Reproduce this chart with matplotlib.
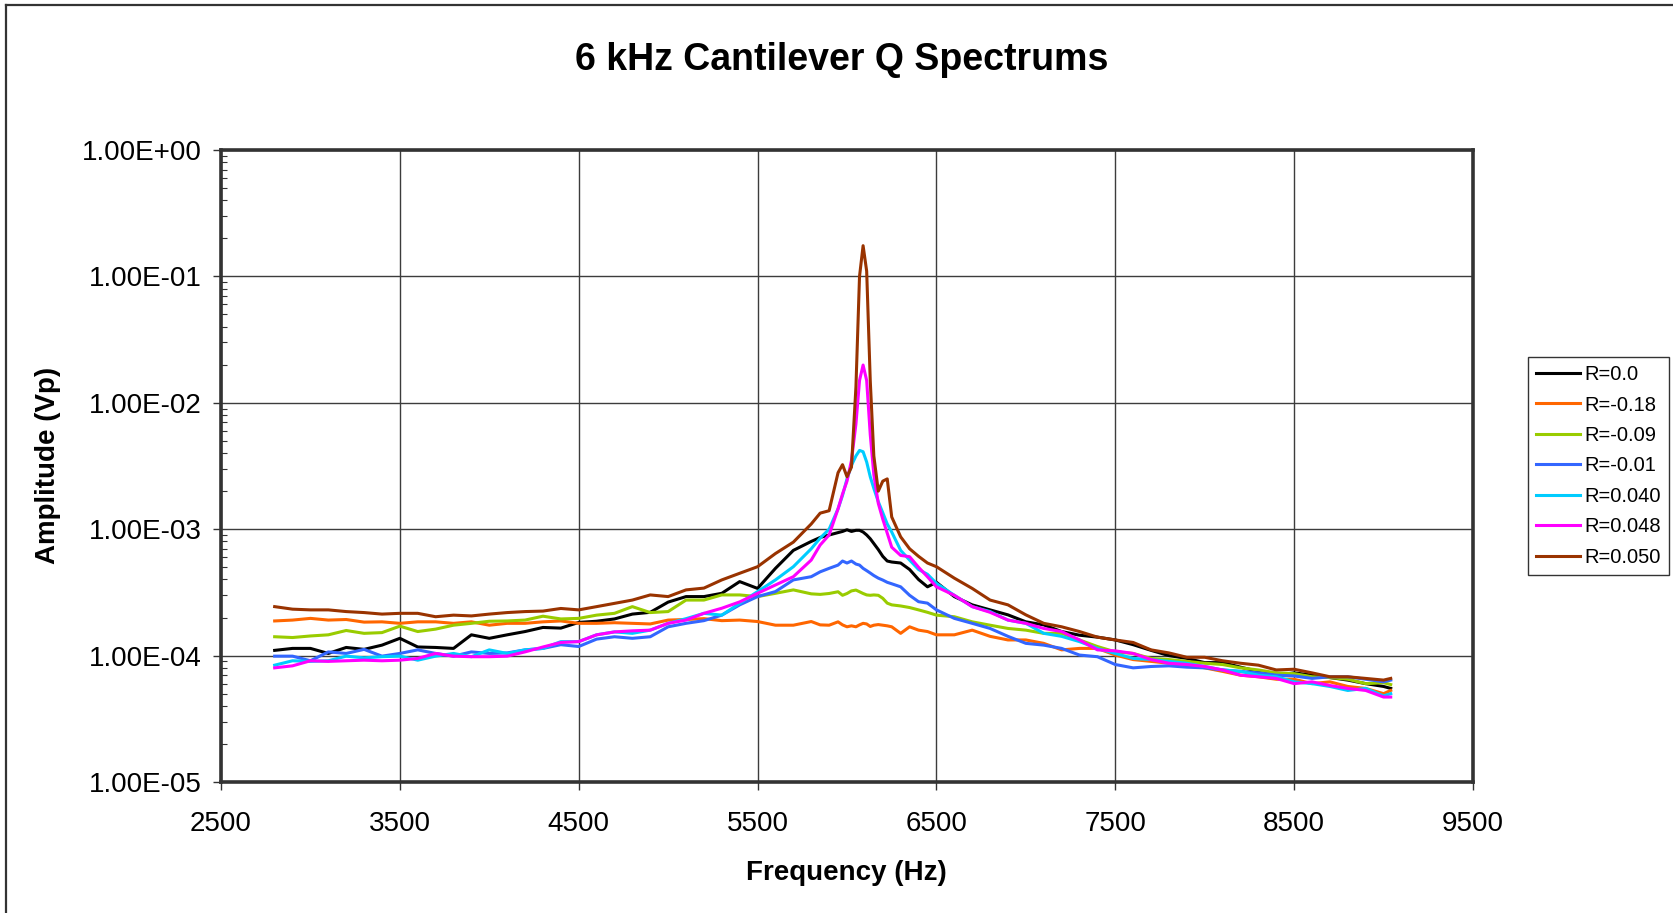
import matplotlib.pyplot as plt
from matplotlib.lines import Line2D
from matplotlib.ticker import FixedLocator, FuncFormatter, LogLocator, NullFormatter

plt.rcParams['font.family'] = ['Liberation Sans', 'DejaVu Sans']

# frequency points (Hz), denser around the resonance
freq_hz = [2800, 2900, 3000, 3100, 3200, 3300, 3400, 3500, 3600, 3700,
           3800, 3900, 4000, 4100, 4200, 4300, 4400, 4500, 4600, 4700,
           4800, 4900, 5000, 5100, 5200, 5300, 5400, 5500, 5600, 5700,
           5800,
           5850, 5900, 5950, 5975, 6000, 6025, 6050, 6070, 6090, 6110,
           6130, 6150, 6175, 6200, 6225, 6250, 6300, 6350, 6400, 6450,
           6500, 6600, 6700, 6800, 6900, 7000, 7100, 7200, 7300, 7400,
           7500, 7600, 7700, 7800, 7900, 8000, 8100, 8200, 8300, 8400,
           8500, 8600, 8700, 8800, 8900, 9000, 9040]

# amplitudes, in units of 1e-4 Vp
amp_r_0 = [1.10, 1.14, 1.14, 1.04, 1.16, 1.12, 1.21, 1.37, 1.17, 1.16,
           1.14, 1.46, 1.37, 1.46, 1.55, 1.67, 1.65, 1.83, 1.87, 1.95,
           2.13, 2.20, 2.65, 2.93, 2.93, 3.11, 3.85, 3.40, 4.90, 6.80,
           8.0,
           8.6, 9.0, 9.4, 9.6, 9.9, 9.6, 9.8, 9.8, 9.5, 9.0,
           8.4, 7.7, 6.9, 6.1, 5.6, 5.5, 5.4, 4.8, 4.0, 3.5,
           3.8, 2.93, 2.52, 2.30, 2.10, 1.85, 1.75, 1.55, 1.45, 1.40,
           1.33, 1.22, 1.10, 1.00, 0.95, 0.88, 0.88, 0.81, 0.75, 0.70,
           0.73, 0.70, 0.67, 0.64, 0.60, 0.57, 0.55]

amp_r_m018 = [1.88, 1.91, 1.97, 1.91, 1.93, 1.84, 1.85, 1.80, 1.85, 1.85,
              1.80, 1.85, 1.74, 1.80, 1.80, 1.85, 1.88, 1.80, 1.80, 1.82,
              1.80, 1.78, 1.91, 1.93, 1.96, 1.89, 1.91, 1.86, 1.74, 1.74,
              1.86,
              1.75, 1.74, 1.85, 1.75, 1.69, 1.72, 1.69, 1.75, 1.80, 1.78,
              1.70, 1.74, 1.76, 1.74, 1.72, 1.69, 1.50, 1.69, 1.59, 1.55,
              1.46, 1.46, 1.59, 1.42, 1.33, 1.33, 1.25, 1.11, 1.14, 1.14,
              1.01, 0.93, 0.90, 0.87, 0.85, 0.80, 0.75, 0.70, 0.68, 0.65,
              0.65, 0.60, 0.62, 0.57, 0.55, 0.50, 0.53]

amp_r_m009 = [1.41, 1.39, 1.43, 1.46, 1.58, 1.50, 1.52, 1.71, 1.55, 1.62,
              1.74, 1.80, 1.87, 1.88, 1.91, 2.05, 1.95, 1.97, 2.09, 2.16,
              2.44, 2.19, 2.23, 2.75, 2.75, 3.02, 3.02, 2.93, 3.11, 3.31,
              3.08,
              3.05, 3.10, 3.20, 3.00, 3.10, 3.25, 3.30, 3.20, 3.10, 3.02,
              3.00, 3.02, 3.00, 2.84, 2.60, 2.52, 2.47, 2.40, 2.30, 2.20,
              2.09, 2.03, 1.85, 1.74, 1.64, 1.59, 1.50, 1.50, 1.33, 1.18,
              1.07, 1.04, 0.95, 0.93, 0.90, 0.87, 0.85, 0.80, 0.77, 0.73,
              0.72, 0.68, 0.67, 0.65, 0.60, 0.61, 0.59]

amp_r_m001 = [0.99, 0.99, 0.91, 1.07, 1.04, 1.12, 0.99, 1.04, 1.11, 1.04,
              0.99, 1.07, 1.04, 1.05, 1.11, 1.14, 1.22, 1.18, 1.35, 1.41,
              1.37, 1.41, 1.69, 1.80, 1.89, 2.09, 2.52, 2.93, 3.21, 3.97,
              4.21,
              4.6, 4.9, 5.2, 5.6, 5.4, 5.6, 5.3, 5.2, 4.9, 4.7,
              4.5, 4.3, 4.1, 3.96, 3.8, 3.7, 3.5, 3.0, 2.67, 2.6,
              2.30, 1.97, 1.80, 1.64, 1.42, 1.25, 1.21, 1.14, 1.01, 0.98,
              0.85, 0.80, 0.82, 0.83, 0.81, 0.80, 0.77, 0.75, 0.73, 0.70,
              0.69, 0.66, 0.68, 0.68, 0.65, 0.62, 0.64]

amp_r_0040 = [0.84, 0.91, 0.90, 0.91, 0.99, 0.96, 0.98, 0.99, 0.92, 0.99,
              1.04, 0.98, 1.11, 1.04, 1.11, 1.14, 1.29, 1.29, 1.46, 1.54,
              1.50, 1.59, 1.80, 1.96, 2.16, 2.09, 2.59, 3.21, 3.97, 5.05,
              7.0,
              8.5, 10.0, 14.5, 18.5, 25, 32, 38, 42, 41, 34,
              26, 21, 16.5, 13.5, 11, 9.5, 6.8, 5.7, 4.8, 4.4,
              3.73, 3.0, 2.44, 2.23, 1.91, 1.80, 1.50, 1.42, 1.29, 1.14,
              1.04, 0.95, 0.93, 0.90, 0.87, 0.82, 0.77, 0.75, 0.70, 0.68,
              0.62, 0.60, 0.57, 0.53, 0.55, 0.48, 0.50]

amp_r_0048 = [0.80, 0.83, 0.91, 0.90, 0.91, 0.92, 0.91, 0.92, 0.95, 1.04,
              0.99, 0.98, 0.98, 0.99, 1.07, 1.17, 1.27, 1.29, 1.46, 1.54,
              1.57, 1.59, 1.80, 1.91, 2.16, 2.37, 2.66, 3.11, 3.62, 4.21,
              5.70,
              7.5, 9.0, 14.5, 19, 24, 35, 68, 150, 199, 150,
              56, 27, 16, 12, 9.3, 7.2, 6.2, 6.06, 5.0, 4.2,
              3.5, 3.0, 2.44, 2.2, 1.91, 1.80, 1.64, 1.55, 1.33, 1.11,
              1.09, 1.04, 0.93, 0.87, 0.85, 0.82, 0.77, 0.70, 0.68, 0.66,
              0.60, 0.62, 0.58, 0.55, 0.53, 0.47, 0.47]

amp_r_0050 = [2.44, 2.33, 2.30, 2.30, 2.23, 2.19, 2.13, 2.16, 2.16, 2.03,
              2.09, 2.06, 2.13, 2.19, 2.23, 2.25, 2.36, 2.30, 2.44, 2.59,
              2.75, 3.02, 2.93, 3.31, 3.42, 3.97, 4.48, 5.05, 6.42, 7.9,
              11.0,
              13.4, 14.0, 28, 32.4, 26, 31, 134, 1000, 1750, 1100,
              150, 38, 20, 24, 25, 12.5, 8.7, 7.0, 6.1, 5.4,
              5.05, 4.1, 3.4, 2.75, 2.52, 2.1, 1.80, 1.69, 1.55, 1.40,
              1.33, 1.27, 1.11, 1.05, 0.97, 0.97, 0.91, 0.87, 0.84, 0.77,
              0.78, 0.73, 0.68, 0.68, 0.66, 0.64, 0.66]

labels = ['R=0.0', 'R=-0.18', 'R=-0.09', 'R=-0.01', 'R=0.040', 'R=0.048', 'R=0.050']
colors = ['#000000', '#FF6600', '#99CC00', '#3366FF', '#00CCFF', '#FF00FF', '#993300']
amps = [amp_r_0, amp_r_m018, amp_r_m009, amp_r_m001, amp_r_0040, amp_r_0048, amp_r_0050]

fig = plt.figure(figsize=(16.73, 9.13), dpi=100)
ax = fig.add_axes([221 / 1673, 1 - 782 / 913, (1473 - 221) / 1673, (782 - 150) / 913])

for lab, col, a in zip(labels, colors, amps):
    ax.plot(freq_hz, [v * 1e-4 for v in a], color=col, lw=2.2, label=lab,
            solid_joinstyle='round')

ax.set_yscale('log')
ax.set_ylim(1e-5, 1)
ax.set_xlim(2500, 9500)
ax.xaxis.set_major_locator(FixedLocator(list(range(2500, 9501, 1000))))
ax.yaxis.set_major_locator(FixedLocator([1e-5, 1e-4, 1e-3, 1e-2, 1e-1, 1]))
ax.yaxis.set_major_formatter(FuncFormatter(lambda v, p: f'{v:.2E}'))
ax.yaxis.set_minor_locator(LogLocator(base=10, subs=range(2, 10)))
ax.yaxis.set_minor_formatter(NullFormatter())

ax.tick_params(axis='both', which='major', direction='out', length=6, width=1,
               labelsize=20, color='#333333')
ax.tick_params(axis='y', which='major', pad=8)
ax.tick_params(axis='x', which='major', pad=15)
ax.tick_params(axis='y', which='minor', direction='in', length=4, width=0.8, color='#333333')

ax.grid(True, which='major', color='#3c3c3c', lw=1.0)
ax.set_axisbelow(True)
for sp in ax.spines.values():
    sp.set_linewidth(2.6)
    sp.set_color('#333333')

fig.text(0.503, 0.934, '6 kHz Cantilever Q Spectrums', ha='center', va='center',
         fontsize=27, fontweight='bold')
fig.text(0.506, 0.044, 'Frequency (Hz)', ha='center', va='center',
         fontsize=20, fontweight='bold')
fig.text(0.0287, 0.49, 'Amplitude (Vp)', ha='center', va='center', rotation=90,
         fontsize=20, fontweight='bold')

leg = ax.legend(loc='upper left', bbox_to_anchor=(1528 / 1673, 1 - 357 / 913),
                bbox_transform=fig.transFigure, frameon=True, fancybox=False,
                edgecolor='black', fontsize=14.5, handlelength=2.2,
                handletextpad=0.2, labelspacing=0.57, borderpad=0.4,
                borderaxespad=0)
leg.get_frame().set_linewidth(1.0)

# chart area border (top and left edges visible)
fig.add_artist(Line2D([6 / 1673, 1.0], [1 - 5 / 913, 1 - 5 / 913],
                      transform=fig.transFigure, color='#333333', lw=1.6))
fig.add_artist(Line2D([6 / 1673, 6 / 1673], [0.0, 1 - 5 / 913],
                      transform=fig.transFigure, color='#333333', lw=1.6))

fig.savefig('out.png', dpi=100)
